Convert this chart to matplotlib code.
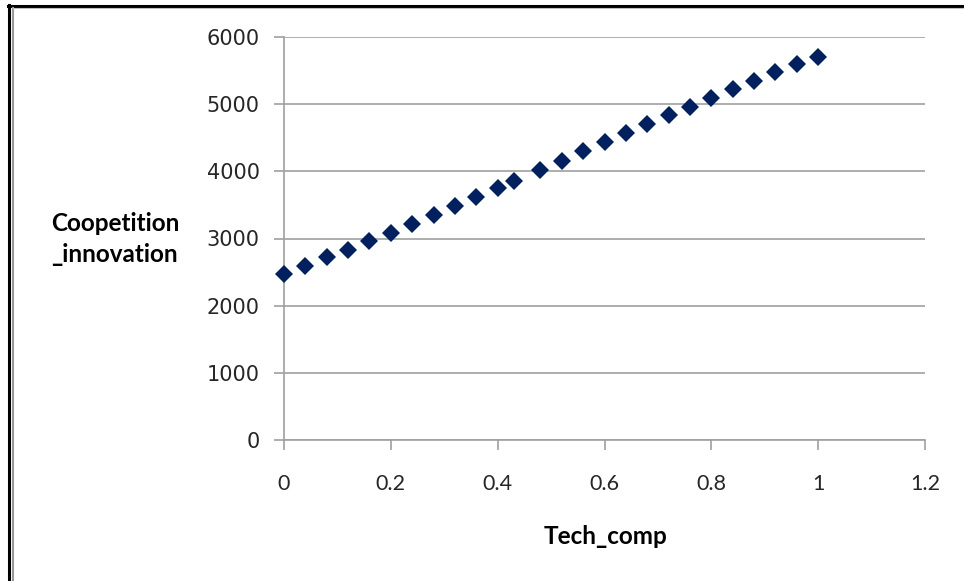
import numpy as np
import matplotlib
matplotlib.use("Agg")
import matplotlib.pyplot as plt
from matplotlib.lines import Line2D

# values
tech_comp = [0.0, 0.04, 0.08, 0.12, 0.16, 0.20, 0.24, 0.28, 0.32, 0.36, 0.40, 0.43,
             0.48, 0.52, 0.56, 0.60, 0.64, 0.68, 0.72, 0.76, 0.80, 0.84, 0.88, 0.92,
             0.96, 1.00]
coopetition_innovation = [2475, 2594, 2718, 2832, 2960, 3089, 3218, 3351, 3490, 3624,
                          3757, 3856, 4020, 4158, 4297, 4436, 4564, 4703, 4832, 4960,
                          5099, 5228, 5347, 5475, 5594, 5703]
x_ticks = [0, 0.2, 0.4, 0.6, 0.8, 1.0, 1.2]
x_tick_labels = ["0", "0.2", "0.4", "0.6", "0.8", "1", "1.2"]
y_ticks = [0, 1000, 2000, 3000, 4000, 5000, 6000]

W, H = 964, 581
fig = plt.figure(figsize=(W / 100, H / 100), dpi=100)
ax = fig.add_axes([284 / W, (H - 440) / H, (925 - 284) / W, (440 - 37) / H])

grey = "#a0a0a0"
ax.plot(tech_comp, coopetition_innovation, linestyle="none", marker="D",
        markersize=9, color="#002060", markeredgewidth=0, clip_on=False, zorder=3)

ax.set_xlim(0, 1.2)
ax.set_ylim(0, 6000)
ax.set_xticks(x_ticks)
ax.set_xticklabels(x_tick_labels, fontfamily="Lato")
ax.set_yticks(y_ticks)

ax.grid(axis="y", color=grey, linewidth=1.2)
ax.set_axisbelow(True)
for side in ["top", "right"]:
    ax.spines[side].set_visible(False)
for side in ["left", "bottom"]:
    ax.spines[side].set_color(grey)
    ax.spines[side].set_linewidth(1.2)

ax.tick_params(axis="both", colors=grey, length=7.5, width=1.2, direction="out")
ax.tick_params(axis="y", labelcolor="#262626", labelsize=15, pad=10)
ax.tick_params(axis="x", labelcolor="#262626", labelsize=15.5, pad=17)

fig.text(51 / W, 1 - 239 / H, "Coopetition\n_innovation", ha="left", va="center",
         fontfamily="Lato", fontweight="bold", fontsize=17.5, linespacing=1.45)
fig.text(605 / W, 1 - 536 / H, "Tech_comp", ha="center", va="center",
         fontfamily="Lato", fontweight="bold", fontsize=17.5)

# frame around the picture
fig.add_artist(Line2D([9 / W, 9 / W], [0, 1 - 5 / H], color="black", linewidth=2.2))
fig.add_artist(Line2D([8 / W, 1], [1 - 5.5 / H, 1 - 5.5 / H], color="black", linewidth=2.2))
fig.add_artist(Line2D([12.5 / W, 12.5 / W], [0, 1 - 7.5 / H], color="#9a9a9a", linewidth=1.5))
fig.add_artist(Line2D([12.5 / W, 1], [1 - 7.8 / H, 1 - 7.8 / H], color="#c0c0c0", linewidth=0.8))

fig.savefig("out.png", dpi=100)
